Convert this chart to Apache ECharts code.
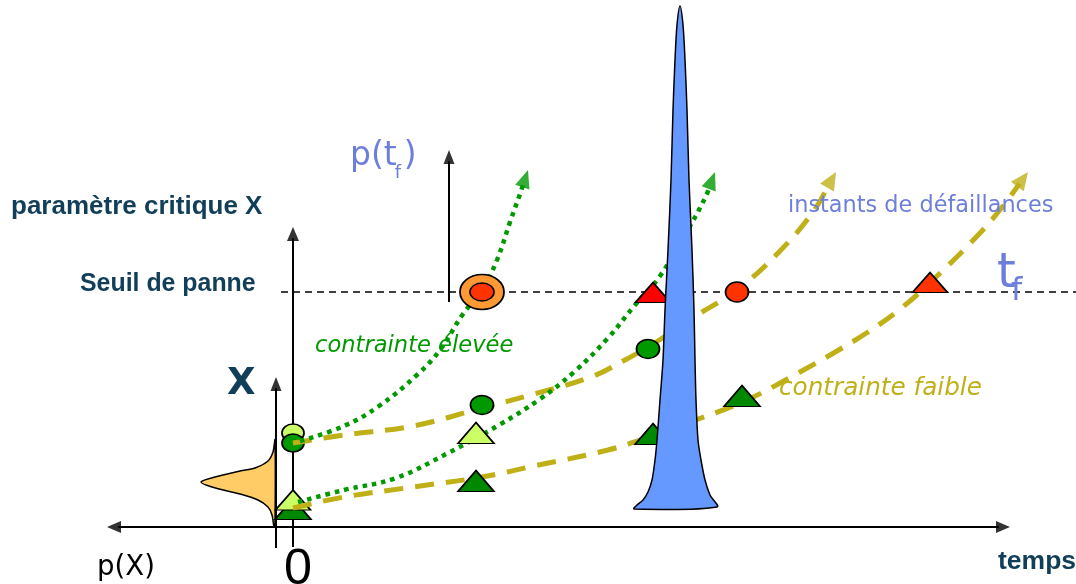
<!DOCTYPE html>
<html><head><meta charset="utf-8">
<script src="https://cdn.jsdelivr.net/npm/echarts@6/dist/echarts.min.js"></script>
<style>html,body{margin:0;padding:0;background:#fff}#c{width:1076px;height:584px}</style>
</head><body><div id="c"></div><script>
// ---- Diagram data: t = time from origin, X = critical parameter ----
const threshold = 235;                      // "Seuil de panne"
const timeAxis = [[-186,0],[717,0]];
const xAxisLine = [[0,-20],[0,300]];
const pxAxisLine = [[-17,-21],[-17,150]];
const ptfAxisLine = [[156,225],[156,377]];
const thresholdLine = [[-12,threshold],[783,threshold]];

// high stress (green dotted) trajectories
const highTop = [[7,86],[51,101],[86,121],[125,153],[147,177],[170,213],[189,237],[204,267],[217,305],[227,333],[235,357]];
const highLow = [[5,25],[51,37],[103,49],[155,74],[206,102],[247,128],[281,155],[315,189],[342,222],[367,251],[397,301],[413,331],[422,355]];
// low stress (olive dashed) trajectories
const lowTop = [[0,84],[51,92],[120,101],[189,119],[241,133],[298,150],[332,167],[360,183],[401,210],[444,237],[486,275],[520,315],[543,355]];
const lowLow = [[0,19],[51,30],[120,40],[189,50],[241,61],[315,77],[356,90],[408,109],[452,126],[507,155],[544,176],[575,195],[606,217],[640,247],[688,295],[710,321],[735,355]];

// markers
const lightCircles = [[0,94]];
const darkCirclesOrigin = [[0,84]];
const darkCircles = [[189,122],[355,178]];
const lightTrianglesOrigin = [[0,27]];
const darkTrianglesOrigin = [[0,18]];
const lightTriangles = [[183,94]];
const darkTriangles = [[183,46],[360,93],[449,131]];
const redTriangleHigh = [[360,234.5]];
const redTriangleLow = [[637,244.5]];
const redCircle = [[444,235]];
const failureRing = [[189,235]];

// p(t_f) failure-time density (peak) outline
const peakShape = [[341,18],[344,22],[350,27],[355,35],[359,47],[362,67],[364,87],[367,127],[370,167],[372,217],[375,277],[378,347],[380,417],[382,467],[384,502],[387,521],
  [390,502],[392,467],[394,417],[396,347],[399,277],[401,217],[402,167],[403,127],[405,87],[408,67],[412,47],[417,32],[424,20]];
// p(X) initial density outline
const pxShape = [[-18,87],[-20,75],[-25,66],[-38,59],[-53,56],[-78,50],[-92,45],[-81,40],[-53,33],[-35,27],[-25,20],[-21,12],[-19,0],[-18,0]];

// ---- helpers ----
const GREEN = '#009900', OLIVE = '#BFB018', DARK = '#113F5A', BLUE = '#6E7FDB';
let zc = 1;
function headOf(seg, len){
  const a = seg[seg.length-2], b = seg[seg.length-1];
  const dx = b[0]-a[0], dy = b[1]-a[1], L = Math.hypot(dx,dy);
  return {center:[b[0]-dx/L*len/2, b[1]-dy/L*len/2], base:[b[0]-dx/L*len*0.8, b[1]-dy/L*len*0.8], rot: Math.atan2(dy,dx)*180/Math.PI-90};
}
function arrowLine(pts, color, width, dash, size, both, smooth){
  const out = [];
  const h = headOf(pts, size[1]);
  let data = pts.slice(0,-1).concat([h.base]);
  const heads = [{value:h.center, symbolRotate:h.rot}];
  if (both){
    const r = headOf(pts.slice().reverse(), size[1]);
    data = [r.base].concat(data.slice(1));
    heads.push({value:r.center, symbolRotate:r.rot});
  }
  out.push({type:'line', data, smooth: smooth||false, symbol:'none', silent:true,
    lineStyle:{color, width, type:dash, cap:'butt'}, z: zc++});
  out.push({type:'scatter', data:heads, symbol:'triangle', symbolSize:size, silent:true,
    itemStyle:{color}, z: zc++});
  return out;
}
function plainLine(pts, color, width, dash){
  return {type:'line', data:pts, symbol:'none', silent:true, lineStyle:{color, width, type:dash, cap:'butt'}, z: zc++};
}
function poly(pts, fill){
  return {type:'custom', coordinateSystem:'cartesian2d', data:[pts[0]], silent:true, z: zc++,
    renderItem:(p,api)=>({type:'polygon', shape:{points: pts.map(q=>api.coord(q)), smooth:0.3},
      style:{fill, stroke:'#000', lineWidth:1.5}})};
}
function markers(data, symbol, size, color, border){
  return {type:'scatter', data, symbol, symbolSize:size, silent:true, z: zc++,
    itemStyle:{color, borderColor:'#000', borderWidth: border===undefined?1.6:border, opacity:1}};
}

const series = [];
series.push(plainLine(thresholdLine, '#000', 1.4, [7,5]));
series.push(poly(pxShape, '#FFCC66'));
series.push(...arrowLine(timeAxis, '#000', 2, 'solid', [12,14], true));
series.push(...arrowLine(xAxisLine, '#000', 2, 'solid', [12,14]));
series.push(...arrowLine(pxAxisLine, '#000', 2, 'solid', [11,14]));
series.push(markers(lightCircles, 'circle', [22,18], '#CCFF66'));
series.push(markers(darkCirclesOrigin, 'circle', [22,18], GREEN));
series.push(markers(darkTrianglesOrigin, 'triangle', [36,21], '#008800'));
series.push(markers(lightTrianglesOrigin, 'triangle', [35,20], '#CCFF66'));
series.push(...arrowLine(lowLow, OLIVE, 5, [19,12], [16,18], false, 0.4));
series.push(...arrowLine(lowTop, OLIVE, 5, [19,12], [16,18], false, 0.4));
series.push(...arrowLine(highLow, GREEN, 4.5, [4.5,5], [15,18], false, 0.4));
series.push(...arrowLine(highTop, GREEN, 4.5, [4.5,5], [15,18], false, 0.4));
series.push(markers(darkCircles, 'circle', [23,19], GREEN));
series.push(markers(lightTriangles, 'triangle', [36,21], '#CCFF66'));
series.push(markers(darkTriangles, 'triangle', [36,21], '#008800'));
series.push(markers(redTriangleHigh, 'triangle', [35,20], '#FF0000'));
series.push(markers(redTriangleLow, 'triangle', [35,20], '#FF3300'));
series.push(markers(redCircle, 'circle', [23,20], '#FF3300'));
series.push(poly(peakShape, '#6699FF'));
series.push(...arrowLine(ptfAxisLine, '#000', 2, 'solid', [11,14]));
series.push(markers(failureRing, 'circle', [44,35], '#FF9933', 1.6));
series.push(markers(failureRing, 'circle', [24,18], '#FF3300', 1.5));

// ---- text (fit font size to measured widths from the reference) ----
const ctx = document.createElement('canvas').getContext('2d');
function fontFor(text, style, weight, family, width){
  ctx.font = `${style} ${weight} 100px ${family}`;
  return 100*width/ctx.measureText(text).width;
}
function label(text, x, baseline, width, o){
  const fs = o.size || fontFor(text, o.style||'normal', o.weight||'normal', o.family, width);
  return {type:'text', x, y: baseline - fs*0.36, z:100, silent:true,
    style:{text, fill:o.color, font:`${o.style||'normal'} ${o.weight||'normal'} ${fs.toFixed(1)}px ${o.family}`, align:'left', verticalAlign:'middle'}};
}
const SANS = '"Liberation Sans", Arial, sans-serif';
const VERD = '"DejaVu Sans", Verdana, sans-serif';
const ptfSize = 33;
ctx.font = `normal normal ${ptfSize}px ${VERD}`;
const ptfW = ctx.measureText('p(t').width;
const graphics = [
  label('paramètre critique X', 11, 216, 251, {weight:'bold', family:SANS, color:DARK}),
  label('Seuil de panne', 80, 293, 176, {weight:'bold', family:SANS, color:DARK}),
  label('p(t', 350, 168, 0, {size:ptfSize, family:VERD, color:BLUE}),
  label('f', 350+ptfW-2, 180, 0, {size:18, family:VERD, color:BLUE}),
  label(')', 350+ptfW+7, 168, 0, {size:ptfSize, family:VERD, color:BLUE}),
  label('instants de défaillances', 788, 214, 266, {family:VERD, color:BLUE}),
  label('t', 997, 292, 0, {size:48, family:VERD, color:BLUE}),
  label('f', 1011, 303, 0, {size:32, family:VERD, color:BLUE}),
  label('contrainte élevée', 315, 354, 198, {style:'italic', family:VERD, color:GREEN}),
  label('contrainte faible', 779, 397, 203, {style:'italic', family:VERD, color:OLIVE}),
  label('X', 227, 398, 0, {size:37, weight:'bold', family:VERD, color:DARK}),
  label('p(X)', 97, 578, 58, {family:VERD, color:'#000'}),
  label('0', 284, 588, 28, {family:SANS, color:'#000'}),
  label('temps', 998, 571, 78, {weight:'bold', family:SANS, color:DARK})
];

const chart = echarts.init(document.getElementById('c'), null, {renderer:'canvas'});
chart.setOption({
  animation:false,
  backgroundColor:'#fff',
  grid:{left:0, right:0, top:0, bottom:0},
  xAxis:{type:'value', min:-293, max:783, show:false},
  yAxis:{type:'value', min:-57, max:527, show:false},
  series,
  graphic: graphics
});
</script></body></html>
